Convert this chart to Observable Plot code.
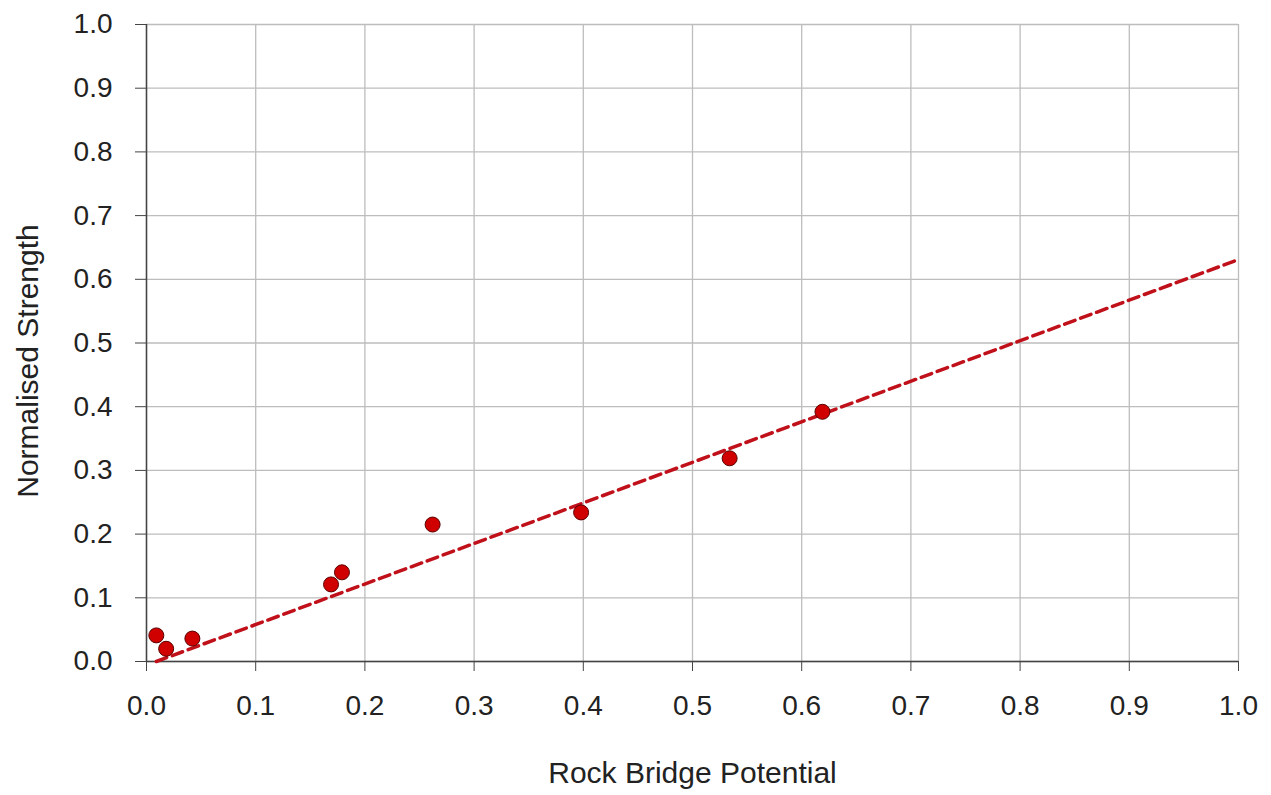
<!DOCTYPE html>
<html>
<head>
<meta charset="utf-8">
<script src="https://cdn.jsdelivr.net/npm/d3@7"></script>
<script src="https://cdn.jsdelivr.net/npm/@observablehq/plot@0.6"></script>
<style>
  html, body { margin: 0; padding: 0; background: #fff; }
  #chart svg { display: block; }
</style>
</head>
<body>
<div id="chart"></div>
<script>
// Data
const rockBridge = [0.009, 0.018, 0.042, 0.169, 0.179, 0.262, 0.398, 0.534, 0.619];
const strength   = [0.041, 0.020, 0.036, 0.121, 0.140, 0.215, 0.234, 0.319, 0.392];
// Dashed trend line end points
const trendX = [0.009, 1.0];
const trendY = [0.0, 0.631];
const ticks = [0, 0.1, 0.2, 0.3, 0.4, 0.5, 0.6, 0.7, 0.8, 0.9, 1.0];
const xTitle = ["Rock Bridge Potential"];
const yTitle = ["Normalised Strength"];

const points = rockBridge.map((x, i) => ({x, y: strength[i]}));
const trend = trendX.map((x, i) => ({x, y: trendY[i]}));

const fmt = d3.format(".1f");
const font = "'Liberation Sans', Arial, sans-serif";

const chart = Plot.plot({
  width: 1271,
  height: 795,
  marginLeft: 146,
  marginRight: 33,
  marginTop: 24,
  marginBottom: 134,
  style: {fontFamily: font, fontSize: "28px", color: "#222", background: "#fff"},
  x: {domain: [0, 1]},
  y: {domain: [0, 1]},
  marks: [
    Plot.ruleX(ticks, {stroke: "#bdbdbd", strokeWidth: 1.3}),
    Plot.ruleY(ticks, {stroke: "#bdbdbd", strokeWidth: 1.3}),
    Plot.ruleX([0], {stroke: "#444", strokeWidth: 1.5}),
    Plot.ruleY([0], {stroke: "#444", strokeWidth: 1.5}),
    Plot.axisX({ticks, tickFormat: fmt, tickSize: 10, tickPadding: 24, stroke: "#444",
      fontSize: 28, label: null}),
    Plot.axisY({ticks, tickFormat: fmt, tickSize: 11, tickPadding: 23, stroke: "#444",
      fontSize: 28, label: null}),
    Plot.text(xTitle, {frameAnchor: "bottom", dy: 112, fontSize: 30, fill: "#222", lineAnchor: "middle", textAnchor: "middle"}),
    Plot.text(yTitle, {frameAnchor: "left", dx: -118, dy: 18, rotate: -90, fontSize: 30, fill: "#222", lineAnchor: "middle", textAnchor: "middle"}),
    Plot.line(trend, {x: "x", y: "y", stroke: "#c0101a", strokeWidth: 3.5, strokeDasharray: "11,6"}),
    Plot.dot(points, {x: "x", y: "y", r: 7.5, fill: "#d10000", stroke: "#5a0000", strokeWidth: 1})
  ]
});
document.getElementById("chart").appendChild(chart);
</script>
</body>
</html>
